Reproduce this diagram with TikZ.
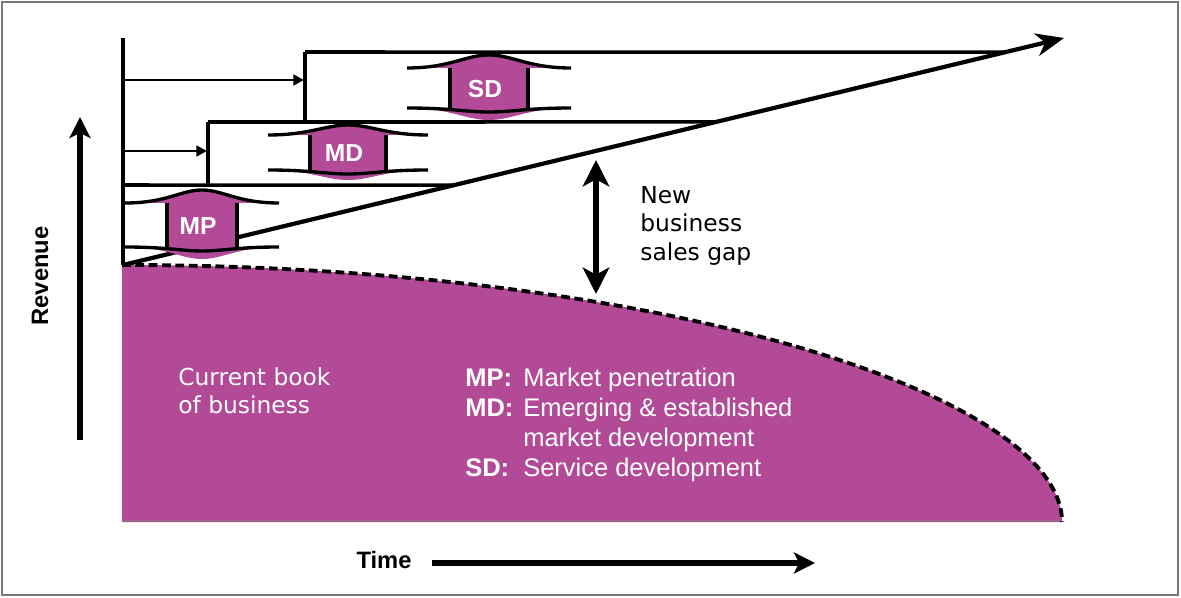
\documentclass[tikz,border=0pt]{standalone}
\usepackage{fontspec}
\setmainfont{Liberation Sans}
\newfontfamily\verd{DejaVu Sans}
\usepackage{tikz}
\usetikzlibrary{arrows.meta,calc}

\definecolor{plum}{RGB}{178,74,152}
\definecolor{framegray}{RGB}{120,120,120}

\newcommand{\keytag}[1]{\makebox[33pt][l]{\bfseries #1}}

\tikzset{
    struct/.style={line width=2pt},
    feed/.style={line width=1.6pt, -{Triangle[length=6pt,width=6pt]}},
    trend/.style={line width=2.4pt, -{Stealth[length=16pt,width=13pt,inset=5pt]}},
    bigarrow/.style={line width=3pt, -{Stealth[length=12pt,width=12pt,inset=3pt]}},
    gaparrow/.style={line width=3pt, {Stealth[length=15pt,width=15pt,inset=4pt]}-{Stealth[length=15pt,width=15pt,inset=4pt]}},
    wing/.style={line width=1.9pt},
    spooltext/.style={inner sep=0pt, text=white, font=\bfseries\fontsize{14}{16}\selectfont},
    axislabel/.style={inner sep=0pt, font=\bfseries\fontsize{13.5}{16}\selectfont},
    note/.style={inner sep=0pt, align=left, font=\verd\fontsize{13.3}{16.2}\selectfont},
}

\begin{document}
\begin{tikzpicture}[x=0.02cm, y=-0.02cm]
                \useasboundingbox (0,0) rectangle (1181,598);
                \draw[framegray, line width=0.9pt] (2,2) rectangle (1178,595);

                % current book of business
                \fill[plum] (122,522) -- (122,265)
                .. controls (660,265) and (1062,395) .. (1062,522) -- cycle;
                \draw[plum!55!gray, line width=1.5pt] (122,521) -- (1060,521);
                \draw[line width=2.2pt, dash pattern=on 5pt off 2.6pt]
                (122,265) .. controls (660,265) and (1062,395) .. (1062,522);

                \coordinate (o) at (123,265);
                \coordinate (tip) at (1064,38);
                \coordinate (axtop) at (123,38);
                \coordinate (r0) at (80,440);
                \coordinate (r1) at (80,117);
                \coordinate (t0) at (432,563);
                \coordinate (t1) at (815,563);
                \coordinate (gaptop) at (596,160);
                \coordinate (gapbot) at (596,294);

                % axes
                \draw[struct] (axtop) -- (o);
                \draw[bigarrow] (r0) -- (r1);
                \node[axislabel, rotate=90] (rev) at (40,276) {Revenue};
                \node[axislabel] (time) at (384,560) {Time};
                \draw[bigarrow] (t0) -- (t1);

                % growth steps
                \draw[struct] (305,52) -- ($(o)!0.938!(tip)$);
                \draw[struct] (305,52) -- (305,122);
                \draw[feed] (123,80) -- (304,80);

                \draw[struct] (208,122) -- ($(o)!0.630!(tip)$);
                \draw[struct] (208,122) -- (208,185);
                \draw[feed] (123,151) -- (207,151);

                \draw[struct] (123,185) -- ($(o)!0.352!(tip)$);

                \draw[trend] (o) -- (tip);

                % MP, MD, SD
                \foreach \cx/\hb/\hw/\yt/\pk/\yb/\bl/\txt/\nm in
                    {489/39/82/68/55/108/120/SD/sd,
                     348/38/80/135/125/170/180/MD/md,
                     202/35/77/203/190/247/259/MP/mp}{
                    \fill[plum] (\cx-\hw,\yt) .. controls (\cx-\hb,\yt) and (\cx-0.6*\hb,\pk)
                    .. (\cx,\pk) .. controls (\cx+0.6*\hb,\pk) and (\cx+\hb,\yt) .. (\cx+\hw,\yt) -- cycle;
                    \fill[plum] (\cx-\hb,\yt) rectangle (\cx+\hb,\yb);
                    \fill[plum] (\cx-\hw,\yb) .. controls (\cx-\hb,\yb) and (\cx-0.6*\hb,\bl)
                    .. (\cx,\bl) .. controls (\cx+0.6*\hb,\bl) and (\cx+\hb,\yb) .. (\cx+\hw,\yb) -- cycle;
                    \draw[wing] (\cx-\hw,\yt) .. controls (\cx-\hb,\yt) and (\cx-0.6*\hb,\pk)
                    .. (\cx,\pk) .. controls (\cx+0.6*\hb,\pk) and (\cx+\hb,\yt) .. (\cx+\hw,\yt);
                    \draw[wing] (\cx-\hw,\yb) .. controls (\cx-\hb,\yb) and (\cx-0.6*\hb,\yb+4)
                    .. (\cx,\yb+4) .. controls (\cx+0.6*\hb,\yb+4) and (\cx+\hb,\yb) .. (\cx+\hw,\yb);
                    \draw[line width=2.4pt] (\cx-\hb,\yt) -- (\cx-\hb,\yb);
                    \draw[line width=2.4pt] (\cx+\hb,\yt) -- (\cx+\hb,\yb);
                    \node[spooltext] (\nm) at (\cx-4,{(\yt+\yb)/2+1}) {\txt};
                }

                % gap
                \draw[gaparrow] (gaptop) -- (gapbot);
                \node[note, anchor=north west] (gap) at (640,186)
                {New\\business\\sales gap};

                \node[note, text=white, anchor=north west] (book) at (178,367)
                {Current book\\of business};

                \node[inner sep=0pt, align=left, text=white, anchor=north west,
                      font=\fontsize{14.5}{17}\selectfont] (key) at (465,368)
                {\keytag{MP:}Market penetration\\
                 \keytag{MD:}Emerging \& established\\
                 \keytag{}market development\\
                 \keytag{SD:}Service development};
            \end{tikzpicture}
\end{document}
